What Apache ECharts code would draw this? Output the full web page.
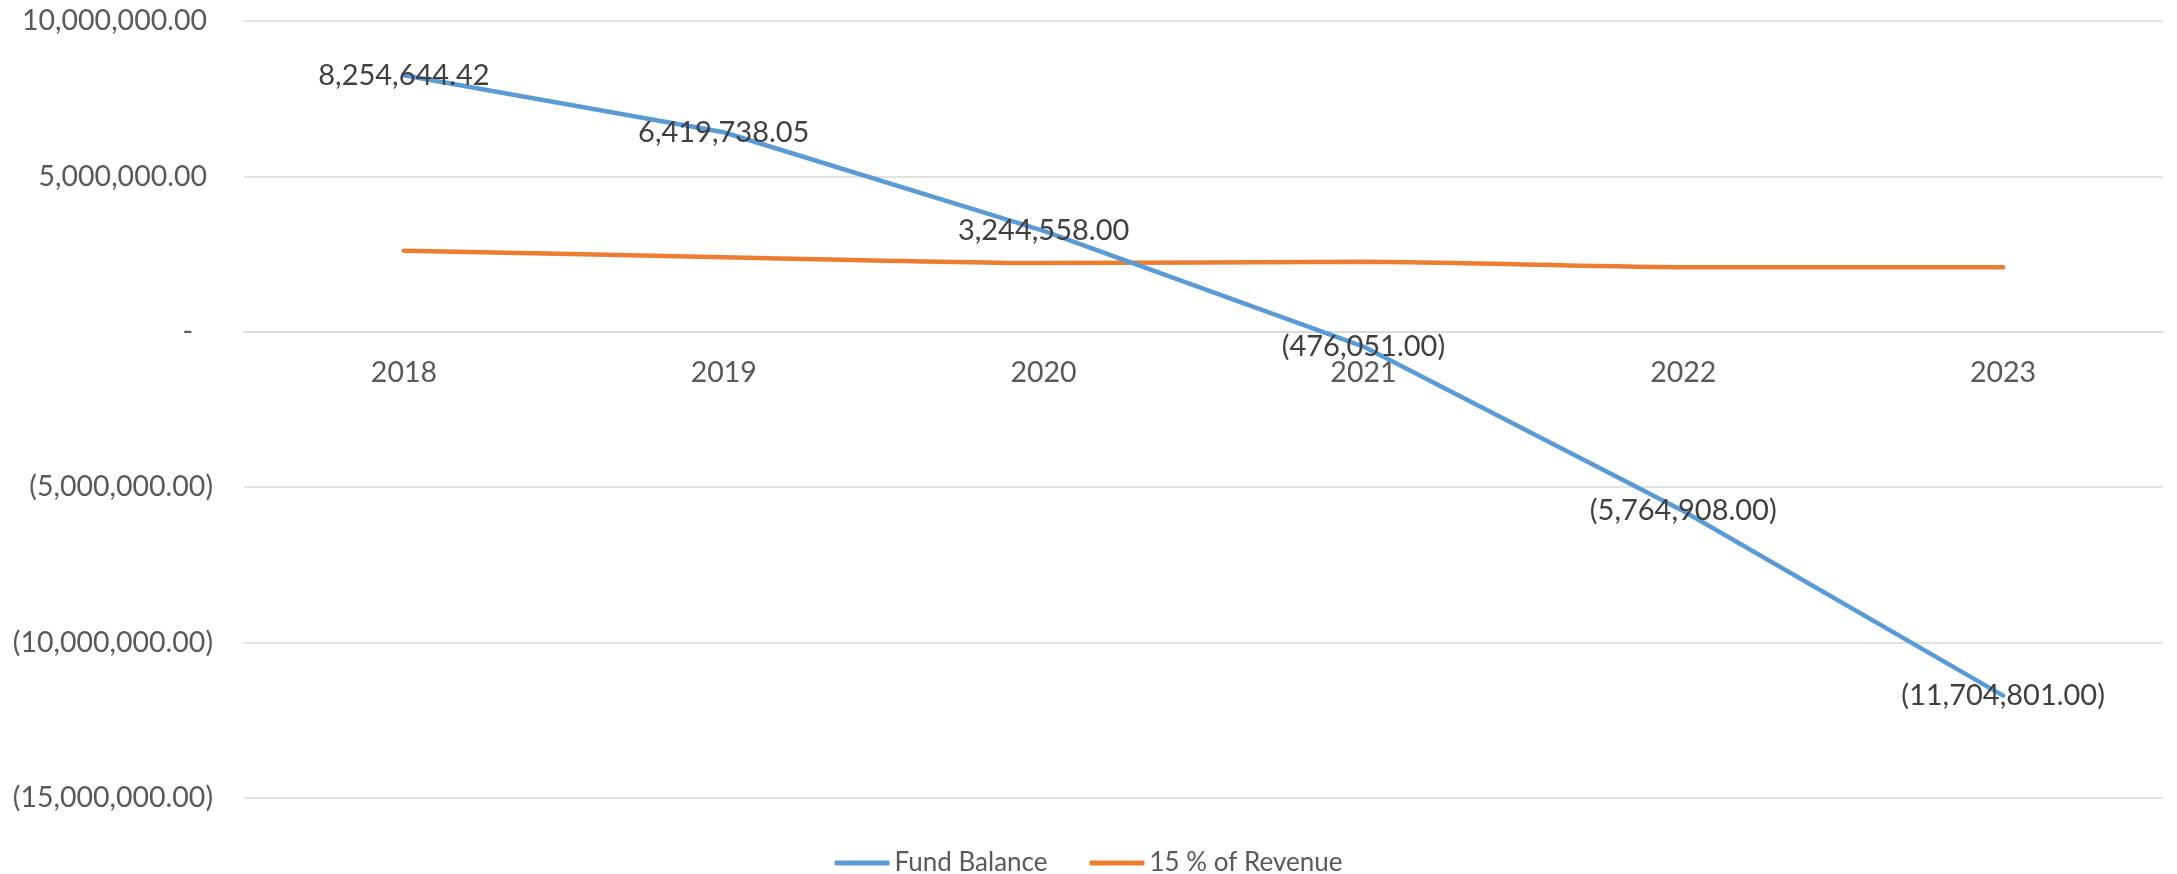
<!DOCTYPE html>
<html>
<head>
<meta charset="utf-8">
<script src="https://cdn.jsdelivr.net/npm/echarts@6.0.0/dist/echarts.min.js"></script>
<style>
  html, body { margin: 0; padding: 0; background: #fff; }
  #chart { width: 2177px; height: 874px; }
</style>
</head>
<body>
<div id="chart"></div>
<script>
// data
const years = ['2018', '2019', '2020', '2021', '2022', '2023'];
const fundBalance = [8254644.42, 6419738.05, 3244558.00, -476051.00, -5764908.00, -11704801.00];
const revenue15 = [2610000, 2400000, 2210000, 2250000, 2080000, 2080000];

const FONT = 'Lato, "Open Sans", sans-serif';
const AXIS_SIZE = 28.5;

// accounting style number: 1,234.00 / (1,234.00) / -
function acct(v) {
  if (v === 0) return '-';
  const s = Math.abs(v).toLocaleString('en-US', { minimumFractionDigits: 2, maximumFractionDigits: 2 });
  return v < 0 ? '(' + s + ')' : s;
}

const chart = echarts.init(document.getElementById('chart'));

const option = {
  backgroundColor: '#ffffff',
  animation: false,
  textStyle: { fontFamily: FONT },
  grid: { left: 244, right: 14, top: 21, bottom: 76, containLabel: false },
  legend: {
    top: 845,
    left: 'center',
    icon: 'roundRect',
    itemWidth: 55,
    itemHeight: 5,
    itemGap: 42,
    textStyle: { fontFamily: FONT, fontSize: 26, color: '#595959' },
    data: ['Fund Balance', '15 % of Revenue']
  },
  xAxis: {
    type: 'category',
    data: years,
    boundaryGap: true,
    position: 'bottom',
    offset: -466, // put the axis on the zero line
    axisLine: { onZero: false, lineStyle: { color: '#d9d9d9', width: 1.5 } },
    axisTick: { show: false },
    axisLabel: { fontFamily: FONT, fontSize: AXIS_SIZE, color: '#595959', margin: 26 }
  },
  yAxis: {
    type: 'value',
    min: -15000000,
    max: 10000000,
    interval: 5000000,
    axisLine: { show: false },
    axisTick: { show: false },
    splitLine: { lineStyle: { color: '#d9d9d9', width: 1.5 } },
    axisLabel: {
      margin: 31,
      fontFamily: FONT,
      fontSize: AXIS_SIZE,
      color: '#595959',
      formatter: function (v) {
        if (v === 0) return '{z|-}';
        if (v > 0) return '{p|' + acct(v) + '}';
        return '{n|' + acct(v) + '}';
      },
      rich: {
        p: { fontFamily: FONT, fontSize: AXIS_SIZE, color: '#595959', padding: [0, 6, 0, 0] },
        n: { fontFamily: FONT, fontSize: AXIS_SIZE, color: '#595959' },
        z: { fontFamily: FONT, fontSize: AXIS_SIZE, color: '#595959', padding: [0, 20, 0, 0] }
      }
    }
  },
  series: [
    {
      name: 'Fund Balance',
      type: 'line',
      data: fundBalance,
      symbol: 'circle',
      symbolSize: 1,
      lineStyle: { color: '#5b9bd5', width: 4.5, cap: 'round' },
      itemStyle: { color: '#5b9bd5' },
      label: {
        show: true,
        position: 'inside',
        fontFamily: FONT,
        fontSize: 29,
        color: '#404040',
        formatter: p => acct(p.value)
      },
      z: 3
    },
    {
      name: '15 % of Revenue',
      type: 'line',
      data: revenue15,
      symbol: 'none',
      smooth: 0.2,
      lineStyle: { color: '#ed7d31', width: 4.5, cap: 'round' },
      itemStyle: { color: '#ed7d31' },
      z: 2
    }
  ]
};

chart.setOption(option);
</script>
</body>
</html>
